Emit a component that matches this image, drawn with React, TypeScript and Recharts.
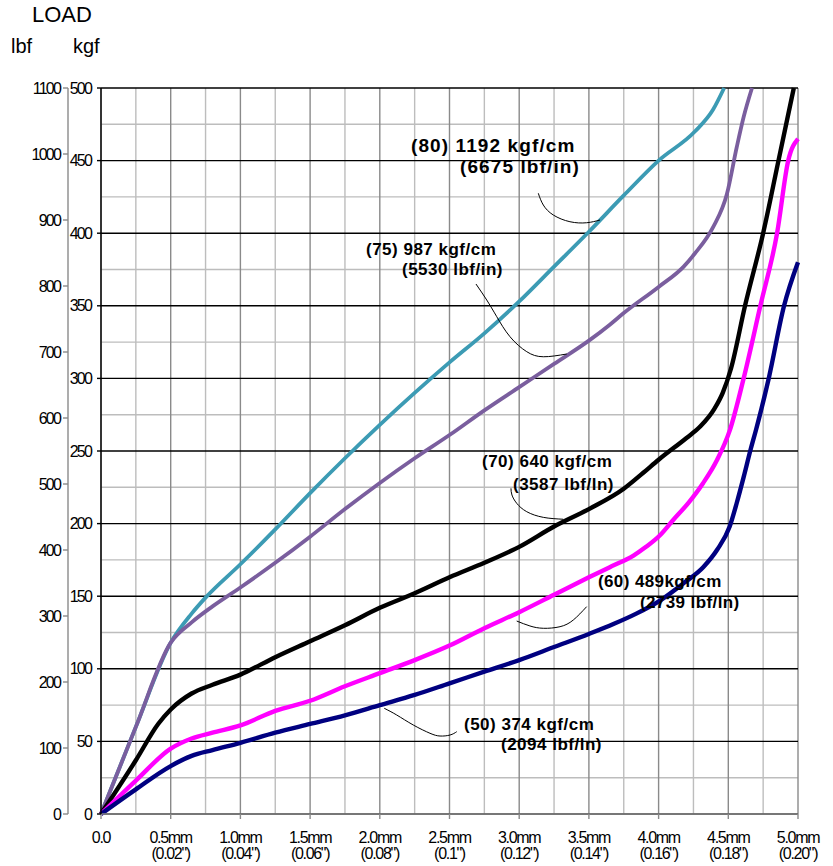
import { LineChart, Line, XAxis, YAxis, CartesianGrid, ReferenceDot } from "recharts";

// axis ticks
const mmTicks = [0, 0.5, 1, 1.5, 2, 2.5, 3, 3.5, 4, 4.5, 5];
const mmLabels = ["0.0", "0.5mm", "1.0mm", "1.5mm", "2.0mm", "2.5mm", "3.0mm", "3.5mm", "4.0mm", "4.5mm", "5.0mm"];
const inchLabels = ["", '(0.02")', '(0.04")', '(0.06")', '(0.08")', '(0.1")', '(0.12")', '(0.14")', '(0.16")', '(0.18")', '(0.20")'];
const mmMinor = [0.25, 0.75, 1.25, 1.75, 2.25, 2.75, 3.25, 3.75, 4.25, 4.75];
const kgfTicks = [0, 50, 100, 150, 200, 250, 300, 350, 400, 450, 500];
const kgfMinor = [25, 75, 125, 175, 225, 275, 325, 375, 425, 475];
const lbfTicks = [0, 100, 200, 300, 400, 500, 600, 700, 800, 900, 1000, 1100];

// [deflection mm, load kgf]
const curve80 = [
  [0, 0], [0.25, 60], [0.5, 118], [0.65, 138], [0.75, 149], [1.0, 172], [1.25, 196],
  [1.5, 221], [1.75, 245], [2.0, 268], [2.25, 290], [2.5, 311], [2.75, 331], [3.0, 353],
  [3.25, 377], [3.5, 401], [3.75, 426], [4.0, 450], [4.26, 470], [4.39, 485], [4.47, 500],
];
const curve75 = [
  [0, 0], [0.25, 60], [0.5, 118], [0.65, 132], [0.8, 143], [1.0, 156], [1.25, 173],
  [1.5, 191], [1.75, 210], [2.0, 228], [2.25, 245], [2.5, 261], [2.75, 278], [3.0, 294],
  [3.25, 310], [3.5, 326], [3.65, 337], [3.75, 345], [4.0, 363], [4.18, 377], [4.26, 386],
  [4.39, 404], [4.49, 427], [4.56, 459], [4.61, 480], [4.67, 500],
];
const curve70 = [
  [0, 0], [0.25, 37], [0.41, 62], [0.5, 72], [0.65, 83], [0.8, 89], [1.0, 96], [1.25, 108],
  [1.5, 119], [1.75, 130], [2.0, 142], [2.25, 152], [2.5, 163], [2.75, 173], [3.0, 184],
  [3.25, 198], [3.5, 210], [3.75, 224], [3.89, 235], [4.0, 244], [4.2, 259], [4.3, 267],
  [4.4, 279], [4.46, 290], [4.52, 307], [4.62, 350], [4.75, 400], [4.86, 450], [4.97, 500],
];
const curve60 = [
  [0, 0], [0.25, 23], [0.5, 45], [0.65, 52], [0.8, 56], [1.0, 61], [1.25, 71], [1.5, 78],
  [1.75, 88], [2.0, 97], [2.25, 106], [2.5, 116], [2.75, 128], [3.0, 139], [3.25, 151],
  [3.5, 163], [3.65, 170], [3.82, 178], [3.91, 184], [4.01, 192], [4.1, 202], [4.22, 215],
  [4.32, 228], [4.42, 244], [4.51, 264], [4.61, 300], [4.73, 350], [4.85, 400], [4.93, 450],
  [5.0, 465],
];
const curve50 = [
  [0, 0], [0.25, 17], [0.5, 33], [0.65, 40], [0.8, 44], [1.0, 49], [1.25, 56], [1.5, 62],
  [1.75, 68], [2.0, 75], [2.25, 82], [2.5, 90], [2.75, 98], [3.0, 106], [3.25, 115],
  [3.5, 124], [3.68, 131], [3.84, 138], [4.01, 147], [4.18, 159], [4.32, 170], [4.42, 182],
  [4.51, 198], [4.56, 214], [4.61, 232], [4.66, 251], [4.7, 265], [4.79, 300], [4.9, 350],
  [5.0, 380],
];

// leader curves from the labels to their lines
const leader80 = [[3.137, 427.5], [3.173, 419.4], [3.245, 412.5], [3.364, 407.9], [3.484, 407.2], [3.58, 409.1]];
const leader75 = [[2.69, 365], [2.767, 354], [2.839, 342.5], [2.934, 328.7], [3.054, 318.4], [3.173, 314.9], [3.341, 316.8]];
const leader70 = [[2.941, 224.3], [2.948, 219.7], [2.982, 214], [3.054, 208.2], [3.173, 204.3], [3.316, 203]];
const leader60 = [[2.982, 132.9], [3.077, 129.5], [3.173, 127.9], [3.293, 129], [3.388, 133.6], [3.484, 142.8]];
const leader50 = [[2.032, 72.8], [2.121, 68.2], [2.24, 61.3], [2.36, 55.6], [2.432, 53.7], [2.504, 54.4], [2.552, 56.7]];

const labelLines = [
  ["(80) 1192 kgf/cm", "(6675 lbf/in)"],
  ["(75) 987 kgf/cm", "(5530 lbf/in)"],
  ["(70) 640 kgf/cm", "(3587 lbf/ln)"],
  ["(60) 489kgf/cm", "(2739 lbf/ln)"],
  ["(50) 374 kgf/cm", "(2094 lbf/ln)"],
];
const labelAt = [[2.224, 455.9], [1.901, 385], [2.733, 239], [3.565, 156.3], [2.604, 57.9]];

const toRows = (pts: number[][]) => pts.map(([mm, kgf]) => ({ mm, kgf }));

const series = [
  { key: "80", pts: curve80, color: "#3C9BB4", width: 3.8 },
  { key: "75", pts: curve75, color: "#7A5E9E", width: 3.8 },
  { key: "70", pts: curve70, color: "#000000", width: 4.4 },
  { key: "60", pts: curve60, color: "#FF00FF", width: 4.4 },
  { key: "50", pts: curve50, color: "#000080", width: 4.4 },
];
const leaders = [leader80, leader75, leader70, leader60, leader50];

const FONT = '"Liberation Sans", Arial, sans-serif';

// per-label style: size, spacing, second-line offset
const labelStyle = [
  { size: 19, ls: 1.1, dx: 49, dy: 21 },
  { size: 17, ls: 0.5, dx: 36, dy: 20 },
  { size: 17, ls: 0.5, dx: 31, dy: 23 },
  { size: 17, ls: 0.4, dx: 42, dy: 21 },
  { size: 17, ls: 0.5, dx: 37, dy: 20 },
];

function XTick({ x, y, payload }: any) {
  const i = mmTicks.indexOf(payload.value);
  const s = { fontFamily: FONT, fontSize: 16, letterSpacing: -1.3, fill: "#000" };
  return (
    <g>
      <text x={x} y={y + 24} textAnchor="middle" style={s}>{mmLabels[i]}</text>
      {inchLabels[i] && (
        <text x={x} y={y + 40} textAnchor="middle" style={s}>{inchLabels[i]}</text>
      )}
    </g>
  );
}

function YTick({ x, y, payload }: any) {
  return (
    <text
      x={x}
      y={y + 5.5}
      textAnchor="end"
      style={{ fontFamily: FONT, fontSize: 16, letterSpacing: -1.8, fill: "#000" }}
    >
      {payload.value}
    </text>
  );
}

function makeLabel(i: number) {
  const st = labelStyle[i];
  return (props: any) => {
    const { cx, cy } = props;
    const s = { fontFamily: FONT, fontSize: st.size, fontWeight: 700, letterSpacing: st.ls, fill: "#000" };
    return (
      <g>
        <text x={cx} y={cy} style={s}>{labelLines[i][0]}</text>
        <text x={cx + st.dx} y={cy + st.dy} style={s}>{labelLines[i][1]}</text>
      </g>
    );
  };
}

export default function App() {
  return (
    <div style={{ position: "absolute", left: 0, top: 0, width: 833, height: 866, background: "#fff", fontFamily: FONT }}>
      <div style={{ position: "absolute", left: 32, top: 2, fontSize: 22, color: "#000" }}>LOAD</div>
      <div style={{ position: "absolute", left: 11, top: 35, fontSize: 20, color: "#000" }}>lbf</div>
      <div style={{ position: "absolute", left: 73, top: 35, fontSize: 20, color: "#000" }}>kgf</div>
      <LineChart width={833} height={866} margin={{ top: 88, right: 35, bottom: 0, left: 0 }}>
        <CartesianGrid
          yAxisId="kgf"
          horizontalValues={kgfMinor}
          verticalValues={mmMinor}
          stroke="#BDBDBD"
          strokeWidth={1.4}
        />
        <CartesianGrid
          yAxisId="kgf"
          horizontal={false}
          verticalValues={mmTicks}
          stroke="#8A8A8A"
          strokeWidth={1.4}
        />
        <CartesianGrid
          yAxisId="kgf"
          vertical={false}
          horizontalValues={kgfTicks}
          stroke="#000"
          strokeWidth={1.4}
        />
        <XAxis
          dataKey="mm"
          type="number"
          domain={[0, 5]}
          ticks={mmTicks}
          interval={0}
          height={52}
          tick={<XTick />}
          tickSize={5}
          tickMargin={0}
          stroke="#8A8A8A"
          strokeWidth={1.4}
          allowDuplicatedCategory={false}
        />
        <YAxis
          yAxisId="kgf"
          dataKey="kgf"
          type="number"
          domain={[0, 500]}
          ticks={kgfTicks}
          interval={0}
          width={33}
          tick={<YTick />}
          tickSize={4}
          tickMargin={6}
          stroke="#000"
          strokeWidth={1.4}
        />
        <YAxis
          yAxisId="lbf"
          type="number"
          domain={[0, 1100]}
          ticks={lbfTicks}
          interval={0}
          width={68}
          tick={<YTick />}
          tickSize={5}
          tickMargin={3}
          stroke="#8A8A8A"
          strokeWidth={1.4}
          allowDataOverflow
        />
        {series.map((s) => (
          <Line
            key={s.key}
            yAxisId="kgf"
            data={toRows(s.pts)}
            dataKey="kgf"
            type="monotone"
            stroke={s.color}
            strokeWidth={s.width}
            dot={false}
            activeDot={false}
            isAnimationActive={false}
          />
        ))}
        {leaders.map((l, i) => (
          <Line
            key={"leader" + i}
            yAxisId="kgf"
            data={toRows(l)}
            dataKey="kgf"
            type="natural"
            stroke="#000"
            strokeWidth={1}
            dot={false}
            activeDot={false}
            isAnimationActive={false}
          />
        ))}
        {labelAt.map(([mm, kgf], i) => (
          <ReferenceDot
            key={"label" + i}
            yAxisId="kgf"
            x={mm}
            y={kgf}
            r={0}
            shape={makeLabel(i)}
          />
        ))}
      </LineChart>
    </div>
  );
}
